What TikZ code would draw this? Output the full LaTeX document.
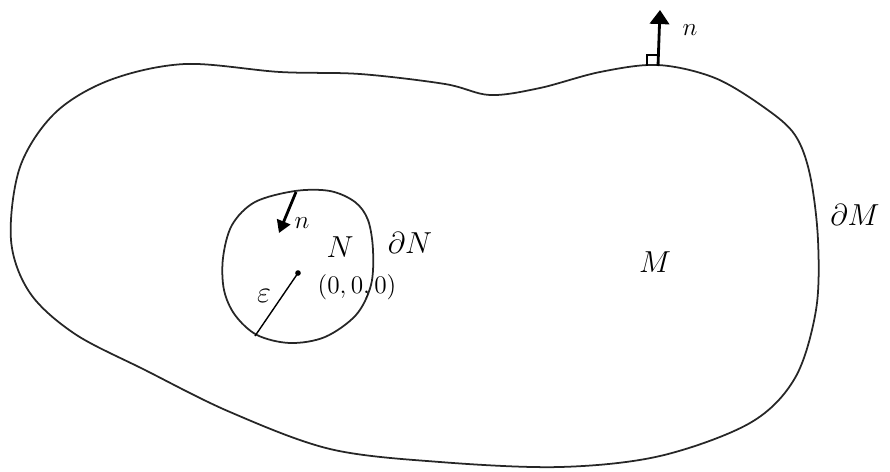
\documentclass[tikz,border=0pt]{standalone}
\usepackage{xcolor}
\usetikzlibrary{arrows.meta}
\begin{document}
\begin{tikzpicture}[x=0.02cm, y=-0.02cm,
        curve/.style={line width=1pt, draw=black!85},
        normal/.style={line width=1.6pt, -{Triangle[width=8pt,length=7pt]}},
        lbl/.style={font=\LARGE}]
    \useasboundingbox (0,0) rectangle (890,471);
    \draw[curve] plot[smooth cycle, tension=0.55] coordinates {
        (11,240) (20,167) (55,113) (110,80) (185,64) (280,72) (360,74) (445,84)
        (490,95) (540,88) (600,72) (658,65) (715,78) (765,108) (795,135) (810,175) (818,240)
        (816,310) (795,378) (750,423) (660,456) (560,467) (440,462) (330,449) (230,412)
        (145,370) (75,334) (30,293)};
    \draw[curve] plot[smooth cycle, tension=0.55] coordinates {
        (295,191) (330,191) (355,202) (368,220) (373,250) (371,285) (356,315) (325,337)
        (290,343) (257,335) (235,315) (224,290) (223,258) (232,225) (255,202)};
    \coordinate (footM) at (658,66);
    \coordinate (tipM) at (660,10);
    \draw[normal, -{Triangle[width=11pt,length=8pt]}] (footM) -- (tipM);
    \draw[line width=0.9pt] (647,66) -- (647,55) -- (658,55);
    \node[font=\Large] (nM) at (690,30) {$n$};
    \coordinate (footN) at (296,192);
    \coordinate (tipN) at (279,233);
    \draw[normal] (footN) -- (tipN);
    \node[font=\Large] (nN) at (302,223) {$n$};
    \coordinate (O) at (298,273);
    \coordinate (rim) at (255,336);
    \fill (O) circle[radius=1.6pt];
    \draw[line width=0.8pt] (O) -- (rim);
    \node[lbl] (eps) at (264,296) {$\varepsilon$};
    \node[font=\Large] (origin) at (357,287) {$(0,0,0)$};
    \node[lbl] (Nlbl) at (340,247) {$N$};
    \node[lbl] (dN) at (410,243) {$\partial N$};
    \node[lbl] (Mlbl) at (655,262) {$M$};
    \node[lbl] (dM) at (855,215) {$\partial M$};
\end{tikzpicture}
\end{document}
